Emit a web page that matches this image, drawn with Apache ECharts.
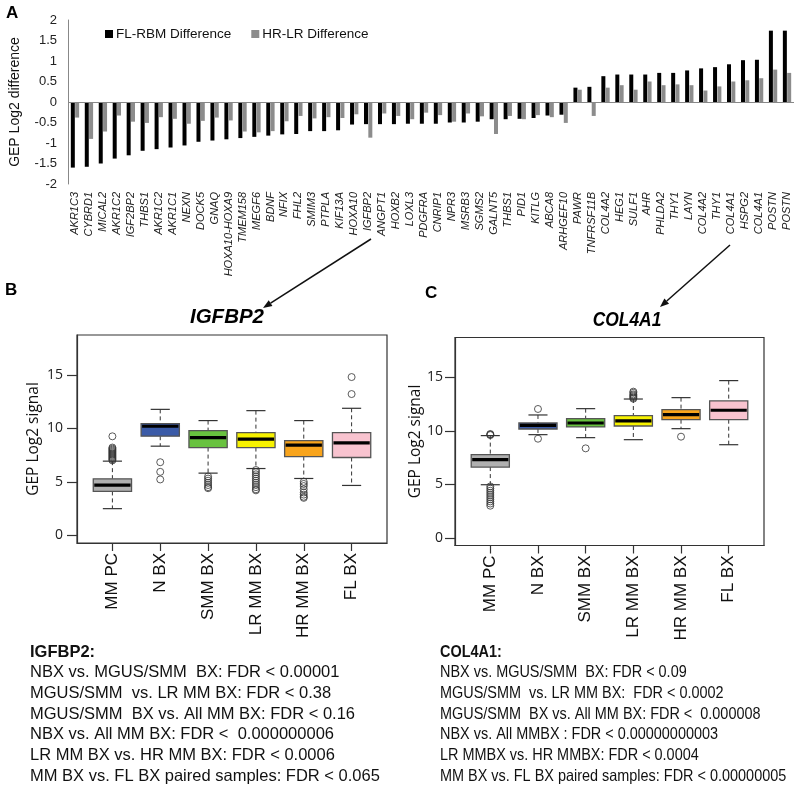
<!DOCTYPE html>
<html><head><meta charset="utf-8">
<script src="https://cdn.jsdelivr.net/npm/echarts@6/dist/echarts.min.js"></script>
<style>html,body{margin:0;padding:0;background:#fff}#c{width:800px;height:792px}</style>
</head><body><div id="c"></div>
<script>
// ---------- Panel A data ----------
const genes = ['AKR1C3','CYBRD1','MICAL2','AKR1C2','IGF2BP2','THBS1','AKR1C2','AKR1C1','NEXN','DOCK5','GNAQ','HOXA10-HOXA9','TMEM158','MEGF6','BDNF','NFIX','FHL2','SMIM3','PTPLA','KIF13A','HOXA10','IGFBP2','ANGPT1','HOXB2','LOXL3','PDGFRA','CNRIP1','NPR3','MSRB3','SGMS2','GALNT5','THBS1','PID1','KITLG','ABCA8','ARHGEF10','PAWR','TNFRSF11B','COL4A2','HEG1','SULF1','AHR','PHLDA2','THY1','LAYN','COL4A2','THY1','COL4A1','HSPG2','COL4A1','POSTN','POSTN'];
const flRbmDiff = [-1.60,-1.58,-1.50,-1.38,-1.30,-1.19,-1.15,-1.11,-1.06,-0.97,-0.94,-0.91,-0.88,-0.85,-0.82,-0.79,-0.78,-0.71,-0.71,-0.69,-0.55,-0.54,-0.54,-0.54,-0.53,-0.53,-0.53,-0.50,-0.50,-0.48,-0.42,-0.42,-0.41,-0.39,-0.33,-0.31,0.35,0.37,0.63,0.67,0.67,0.67,0.71,0.71,0.77,0.82,0.85,0.92,1.02,1.03,1.74,1.74];
const hrLrDiff = [-0.38,-0.90,-0.72,-0.33,-0.48,-0.51,-0.37,-0.41,-0.53,-0.46,-0.38,-0.45,-0.72,-0.74,-0.71,-0.47,-0.34,-0.40,-0.37,-0.39,-0.30,-0.87,-0.28,-0.34,-0.42,-0.26,-0.32,-0.48,-0.28,-0.35,-0.78,-0.34,-0.42,-0.32,-0.37,-0.51,0.30,-0.34,0.35,0.41,0.30,0.50,0.41,0.43,0.41,0.28,0.38,0.50,0.53,0.58,0.79,0.71];
const seriesNamesA = ['FL-RBM Difference','HR-LR Difference'];

// ---------- Panels B, C data ----------
const boxGroups = ['MM PC','N BX','SMM BX','LR MM BX','HR MM BX','FL BX'];
const boxColors = ['#b0b0b0','#3b5ba8','#68c23f','#f7f200','#f8a41c','#f8c3cf'];
// [position, lower whisker, Q1, median, Q3, upper whisker]
const igfbp2Stats = [[1,2.49,4.10,4.69,5.28,6.93],[2,8.33,9.26,10.19,10.44,11.77],[3,5.81,8.20,9.13,9.79,10.72],[4,6.24,8.20,8.98,9.60,11.65],[5,5.31,7.36,8.42,8.85,10.72],[6,4.66,7.27,8.64,9.60,11.87]];
const igfbp2Outliers = [[1,7.0],[1,7.1],[1,7.2],[1,7.3],[1,7.4],[1,7.5],[1,7.6],[1,7.7],[1,7.8],[1,7.9],[1,8.0],[1,8.1],[1,8.2],[1,9.25],
  [2,6.83],[2,5.93],[2,5.22],
  [3,5.5],[3,5.3],[3,5.1],[3,4.9],[3,4.7],[3,4.5],[3,4.4],
  [4,6.1],[4,5.9],[4,5.7],[4,5.5],[4,5.3],[4,5.1],[4,4.9],[4,4.7],[4,4.5],[4,4.3],[4,4.2],
  [5,5.0],[5,4.8],[5,4.6],[5,4.3],[5,4.0],[5,3.8],[5,3.6],[5,3.5],
  [6,13.2],[6,14.79]];
const col4a1Stats = [[1,4.96,6.61,7.30,7.77,9.55],[2,9.64,10.17,10.51,10.73,11.48],[3,9.36,10.36,10.73,11.13,12.07],[4,9.17,10.45,10.92,11.41,12.97],[5,10.20,11.04,11.51,11.98,13.10],[6,8.70,11.04,11.92,12.79,14.69]];
const col4a1Outliers = [[1,9.6],[1,9.7],[1,9.65],[1,4.8],[1,4.6],[1,4.4],[1,4.2],[1,4.0],[1,3.8],[1,3.6],[1,3.4],[1,3.2],[1,3.0],
  [2,12.04],[2,9.26],
  [3,8.36],
  [4,13.0],[4,13.1],[4,13.2],[4,13.3],[4,13.4],[4,13.55],[4,13.66],
  [5,9.45]];
const boxTicks = [0,5,10,15];
const boxPositions = [1,2,3,4,5,6];

const igfbp2Text = ['IGFBP2:','NBX vs. MGUS/SMM  BX: FDR < 0.00001','MGUS/SMM  vs. LR MM BX: FDR < 0.38','MGUS/SMM  BX vs. All MM BX: FDR < 0.16','NBX vs. All MM BX: FDR <  0.000000006','LR MM BX vs. HR MM BX: FDR < 0.0006','MM BX vs. FL BX paired samples: FDR < 0.065'];
const col4a1Text = ['COL4A1:','NBX vs. MGUS/SMM  BX: FDR < 0.09','MGUS/SMM  vs. LR MM BX:  FDR < 0.0002','MGUS/SMM  BX vs. All MM BX: FDR <  0.000008','NBX vs. All MMBX : FDR < 0.00000000003','LR MMBX vs. HR MMBX: FDR < 0.0004','MM BX vs. FL BX paired samples: FDR < 0.00000005'];

// ---------- rendering ----------
const F = '"Liberation Sans", Arial, sans-serif';
const F2 = '"Open Sans", "Liberation Sans", sans-serif';
const chart = echarts.init(document.getElementById('c'), null, {renderer:'canvas'});

function renderBox(params, api) {
  const x = api.value(0);
  const p = i => api.coord([x, api.value(i)]);
  const lo = p(1), q1 = p(2), med = p(3), q3 = p(4), hi = p(5);
  const bw = api.size([0.8, 0])[0];
  const cap = bw / 2;
  const cx = lo[0];
  const dash = {stroke:'#333', lineWidth:1, lineDash:[4,3]};
  const solid = {stroke:'#333', lineWidth:1.2};
  return {type:'group', children:[
    {type:'line', shape:{x1:cx,y1:hi[1],x2:cx,y2:q3[1]}, style:dash},
    {type:'line', shape:{x1:cx,y1:q1[1],x2:cx,y2:lo[1]}, style:dash},
    {type:'line', shape:{x1:cx-cap/2,y1:hi[1],x2:cx+cap/2,y2:hi[1]}, style:solid},
    {type:'line', shape:{x1:cx-cap/2,y1:lo[1],x2:cx+cap/2,y2:lo[1]}, style:solid},
    {type:'rect', shape:{x:cx-bw/2,y:q3[1],width:bw,height:q1[1]-q3[1]}, style:{fill:boxColors[params.dataIndex], stroke:'#555', lineWidth:1.3}},
    {type:'line', shape:{x1:cx-bw/2+1,y1:med[1],x2:cx+bw/2-1,y2:med[1]}, style:{stroke:'#000', lineWidth:3.2}}
  ]};
}

function boxXAxis(gi) {
  return {gridIndex:gi, type:'value', min:0.26, max:6.74,
    axisLine:{show:true, onZero:false, lineStyle:{color:'#333', width:1.2}},
    axisTick:{show:true, length:8, customValues:boxPositions, lineStyle:{color:'#333', width:1.2}},
    axisLabel:{show:true, customValues:boxPositions, rotate:90, margin:10, fontSize:17, fontFamily:F, color:'#111',
      formatter: v => boxGroups[Math.round(v)-1]},
    splitLine:{show:false}};
}
function boxYAxis(gi, nameGap, labelMargin) {
  return {gridIndex:gi, type:'value', min:-0.72, max:18.72,
    name:'GEP Log2 signal', nameLocation:'middle', nameGap:nameGap, nameTextStyle:{fontSize:15.5, fontFamily:F2, color:'#111'},
    axisLine:{show:true, onZero:false, lineStyle:{color:'#333', width:1.2}},
    axisTick:{show:true, length:10, customValues:boxTicks, lineStyle:{color:'#333', width:1.2}},
    axisLabel:{show:true, customValues:boxTicks, margin:labelMargin, fontSize:14, fontFamily:F2, color:'#222'},
    splitLine:{show:false}};
}

function textLines(lines, x, y0, sx) {
  return lines.map((t, i) => ({type:'text', x:x, y:y0 + i*20.7, scaleX:sx,
    style:{text:t, fontSize:16.5, fontFamily:F, fontWeight: i===0 ? 'bold' : 'normal', fill:'#111', textVerticalAlign:'middle'}}));
}
function arrow(x1,y1,x2,y2) {
  const dx = x2-x1, dy = y2-y1, L = Math.hypot(dx,dy), ux = dx/L, uy = dy/L;
  const bx = x2 - 9*ux, by = y2 - 9*uy, px = -uy*3.5, py = ux*3.5;
  return [
    {type:'line', shape:{x1,y1,x2:bx,y2:by}, style:{stroke:'#111', lineWidth:1.5}},
    {type:'polygon', shape:{points:[[x2,y2],[bx+px,by+py],[bx-px,by-py]]}, style:{fill:'#111'}}
  ];
}

const option = {
  animation:false,
  backgroundColor:'#fff',
  grid:[
    {left:68, top:20, width:726, height:164},
    {left:77, top:335, width:310, height:208, show:true, borderColor:'#333', borderWidth:1.2, backgroundColor:'transparent'},
    {left:455, top:337.5, width:309, height:208, show:true, borderColor:'#333', borderWidth:1.2, backgroundColor:'transparent'}
  ],
  legend:{data:seriesNamesA, left:100, top:22, icon:'rect', itemWidth:8, itemHeight:8, itemGap:20,
    textStyle:{fontSize:13.5, fontFamily:F, color:'#111', padding:[0,0,0,-2]}},
  xAxis:[
    {gridIndex:0, type:'category', data:genes, position:'bottom',
      axisLine:{show:false, onZero:false}, axisTick:{show:false},
      axisLabel:{interval:0, rotate:90, margin:8, fontSize:11, fontStyle:'italic', fontFamily:F, color:'#222'}},
    boxXAxis(1), boxXAxis(2)
  ],
  yAxis:[
    {gridIndex:0, type:'value', min:-2, max:2, interval:0.5,
      name:'GEP Log2 difference', nameLocation:'middle', nameGap:46, nameTextStyle:{fontSize:14, fontFamily:F, color:'#111'},
      axisLine:{show:true, lineStyle:{color:'#888'}}, axisTick:{show:false},
      axisLabel:{fontSize:13, fontFamily:F, color:'#222', margin:11}, splitLine:{show:false}},
    boxYAxis(1, 35, 14), boxYAxis(2, 28, 12)
  ],
  series:[
    {name:seriesNamesA[0], type:'bar', xAxisIndex:0, yAxisIndex:0, data:flRbmDiff, barWidth:4, barGap:'8%', itemStyle:{color:'#000'},
      markLine:{silent:true, symbol:'none', label:{show:false}, lineStyle:{color:'#888', width:1, type:'solid'}, data:[{yAxis:0}]}},
    {name:seriesNamesA[1], type:'bar', xAxisIndex:0, yAxisIndex:0, data:hrLrDiff, barWidth:4, itemStyle:{color:'#8c8c8c'}},
    {type:'custom', xAxisIndex:1, yAxisIndex:1, data:igfbp2Stats, encode:{x:0, y:[1,2,3,4,5]}, renderItem:renderBox, z:2},
    {type:'scatter', xAxisIndex:1, yAxisIndex:1, data:igfbp2Outliers, symbol:'circle', symbolSize:7,
      itemStyle:{color:'rgba(255,255,255,0)', borderColor:'#333', borderWidth:1}, z:3},
    {type:'custom', xAxisIndex:2, yAxisIndex:2, data:col4a1Stats, encode:{x:0, y:[1,2,3,4,5]}, renderItem:renderBox, z:2},
    {type:'scatter', xAxisIndex:2, yAxisIndex:2, data:col4a1Outliers, symbol:'circle', symbolSize:7,
      itemStyle:{color:'rgba(255,255,255,0)', borderColor:'#333', borderWidth:1}, z:3}
  ],
  graphic:[
    {type:'text', x:6, y:5, style:{text:'A', fontSize:17, fontWeight:'bold', fontFamily:F, fill:'#000'}},
    {type:'text', x:5, y:282, style:{text:'B', fontSize:17, fontWeight:'bold', fontFamily:F, fill:'#000'}},
    {type:'text', x:425, y:285, style:{text:'C', fontSize:17, fontWeight:'bold', fontFamily:F, fill:'#000'}},
    {type:'text', x:227, y:317, style:{text:'IGFBP2', fontSize:20.5, fontWeight:'bold', fontStyle:'italic', fontFamily:F, fill:'#000', textAlign:'center', textVerticalAlign:'middle'}},
    {type:'text', x:627, y:320, scaleX:0.85, style:{text:'COL4A1', fontSize:20.5, fontWeight:'bold', fontStyle:'italic', fontFamily:F, fill:'#000', textAlign:'center', textVerticalAlign:'middle'}},
    ...arrow(371,239,263,308),
    ...arrow(730,245,660,307),
    ...textLines(igfbp2Text, 30, 652, 1),
    ...textLines(col4a1Text, 440, 652, 0.875)
  ]
};
chart.setOption(option);
</script></body></html>
